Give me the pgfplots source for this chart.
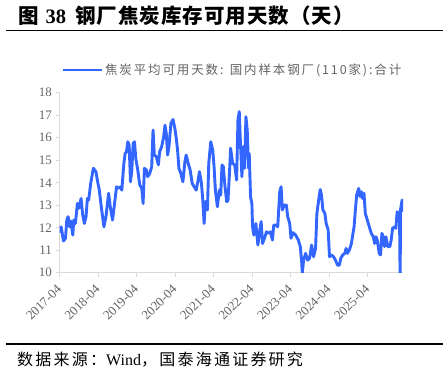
\documentclass[border=0pt]{standalone}
\usepackage{fontspec}
\usepackage{pgfplots}
\pgfplotsset{compat=1.18}
\setmainfont{Liberation Serif}
\newfontfamily\cjkT{Noto Sans CJK SC}[LetterSpace=5]
\newfontfamily\cjkL{Noto Sans CJK SC}[LetterSpace=15]
\newfontfamily\cjkF{Noto Sans CJK SC}[LetterSpace=14]
\definecolor{lineblue}{RGB}{51,102,255}
\definecolor{axgray}{RGB}{217,217,217}
\definecolor{txtgray}{RGB}{100,100,100}
\begin{document}
\begin{tikzpicture}
\useasboundingbox (0,0) rectangle (448bp,-374bp);
\node[anchor=base west, inner sep=0] at (18bp,-23.5bp) {\fontsize{20.5bp}{24bp}\selectfont\cjkT\bfseries 图\hspace{7bp}{\rmfamily\bfseries 38}\hspace{9bp}钢厂焦炭库存可用天数（天）};
\draw[line width=1.3bp] (6bp,-30.7bp) -- (443bp,-30.7bp);
\draw[line width=1.3bp] (6bp,-344bp) -- (443bp,-344bp);
\node[anchor=base west, inner sep=0] at (17bp,-365bp) {\fontsize{16bp}{19bp}\selectfont\cjkF 数据来源：{\rmfamily Wind}，国泰海通证券研究};
\begin{axis}[
 at={(59.5bp,-272.7bp)}, anchor=south west,
 scale only axis, width=343.5bp, height=180bp,
 xmin=2017.25, xmax=2026.17, ymin=10, ymax=18,
 axis x line*=bottom, axis y line*=left,
 axis line style={draw=axgray, line width=1.3bp},
 ytick={10,11,...,18},
 xtick={2017.25,2018.25,2019.25,2020.25,2021.25,2022.25,2023.25,2024.25,2025.25},
 xticklabels={2017-04,2018-04,2019-04,2020-04,2021-04,2022-04,2023-04,2024-04,2025-04},
 tick style={draw=axgray, line width=1bp},
 major tick length=4bp,
 tick align=outside,
 tick label style={font=\fontsize{13bp}{15bp}\selectfont, text=txtgray},
 /pgf/number format/assume math mode=true,
 xticklabel shift=8bp,
 x tick label style={xshift=2bp, rotate=45, anchor=east},
 legend style={at={(0.0044,1.126)}, anchor=west, draw=none, fill=none, inner sep=0pt, font=\fontsize{12.5bp}{15bp}\selectfont\cjkL, text=txtgray},
 legend image code/.code={\draw[#1] (0bp,0bp) -- (39bp,0bp);},
]
\addplot[color=lineblue, line width=2.9bp, line join=round] coordinates {
(2017.250,11.78) (2017.293,12.04) (2017.353,11.41) (2017.405,11.53) (2017.439,12.34)
(2017.474,12.49) (2017.508,12.04) (2017.543,12.30) (2017.595,11.67) (2017.620,12.34)
(2017.663,12.19) (2017.715,13.08) (2017.750,12.86) (2017.810,13.30) (2017.853,12.56)
(2017.896,12.19) (2017.939,12.49) (2017.974,13.30) (2018.008,13.23) (2018.060,13.97)
(2018.129,14.64) (2018.197,14.49) (2018.232,14.12) (2018.284,13.67) (2018.335,12.93)
(2018.404,12.04) (2018.456,12.49) (2018.525,13.53) (2018.568,12.93) (2018.628,12.34)
(2018.680,13.08) (2018.731,13.82) (2018.783,13.75) (2018.835,13.82) (2018.869,13.67)
(2018.921,14.86) (2018.955,15.30) (2018.990,15.38) (2019.024,15.82) (2019.059,15.67)
(2019.093,14.04) (2019.128,14.56) (2019.162,15.75) (2019.197,15.82) (2019.231,15.08)
(2019.283,14.56) (2019.334,13.90) (2019.386,13.75) (2019.421,13.08) (2019.455,14.64)
(2019.507,14.56) (2019.541,14.27) (2019.593,14.41) (2019.644,14.71) (2019.679,16.34)
(2019.713,15.23) (2019.765,15.16) (2019.817,14.79) (2019.851,15.38) (2019.903,15.60)
(2019.955,16.04) (2019.989,16.56) (2020.023,16.19) (2020.058,15.23) (2020.092,15.60)
(2020.144,16.64) (2020.196,16.81) (2020.247,16.41) (2020.282,15.97) (2020.316,15.45)
(2020.351,14.64) (2020.402,14.41) (2020.454,14.04) (2020.506,14.93) (2020.540,15.23)
(2020.592,14.86) (2020.644,14.56) (2020.695,13.97) (2020.747,13.82) (2020.799,13.67)
(2020.850,14.12) (2020.885,14.49) (2020.936,13.97) (2020.971,13.23) (2021.005,12.19)
(2021.040,13.16) (2021.091,12.79) (2021.126,14.86) (2021.178,15.82) (2021.229,15.45)
(2021.264,14.71) (2021.298,13.67) (2021.350,12.93) (2021.402,13.67) (2021.436,13.45)
(2021.470,14.79) (2021.505,14.71) (2021.539,13.97) (2021.591,13.16) (2021.625,13.20)
(2021.660,14.30) (2021.694,15.53) (2021.746,14.86) (2021.798,14.79) (2021.849,14.12)
(2021.884,16.79) (2021.918,17.16) (2021.953,15.60) (2021.987,14.27) (2022.022,15.60)
(2022.056,14.64) (2022.091,16.93) (2022.125,16.34) (2022.160,14.64) (2022.177,15.30)
(2022.211,13.38) (2022.246,13.08) (2022.263,12.04) (2022.297,11.67) (2022.349,12.19)
(2022.401,11.23) (2022.452,11.90) (2022.487,12.27) (2022.521,11.30) (2022.573,11.53)
(2022.625,11.82) (2022.676,11.75) (2022.728,11.82) (2022.780,11.45) (2022.814,12.12)
(2022.866,12.12) (2022.917,12.04) (2022.969,13.60) (2023.004,13.82) (2023.038,12.79)
(2023.090,13.01) (2023.141,13.01) (2023.176,12.49) (2023.228,12.19) (2023.262,11.53)
(2023.314,11.78) (2023.383,11.67) (2023.452,11.45) (2023.503,11.16) (2023.538,10.50)
(2023.555,10.00) (2023.589,10.56) (2023.641,10.86) (2023.693,10.56) (2023.744,10.64)
(2023.796,11.23) (2023.848,10.71) (2023.899,11.08) (2023.934,12.64) (2023.986,13.30)
(2024.020,13.70) (2024.054,13.45) (2024.089,12.79) (2024.141,12.64) (2024.175,12.19)
(2024.227,11.90) (2024.261,10.71) (2024.313,10.79) (2024.365,10.71) (2024.416,10.56)
(2024.468,10.34) (2024.520,10.34) (2024.554,10.64) (2024.606,10.79) (2024.658,10.86)
(2024.692,11.08) (2024.726,10.86) (2024.778,11.01) (2024.830,11.30) (2024.864,11.67)
(2024.899,12.04) (2024.933,12.79) (2024.967,13.45) (2025.019,13.75) (2025.054,13.38)
(2025.088,13.60) (2025.123,13.30) (2025.157,13.53) (2025.191,12.64) (2025.243,12.34)
(2025.295,12.04) (2025.346,11.75) (2025.398,11.60) (2025.433,11.30) (2025.467,11.60)
(2025.501,11.45) (2025.553,10.86) (2025.587,10.79) (2025.622,11.75) (2025.656,11.60)
(2025.691,11.16) (2025.725,11.60) (2025.777,11.16) (2025.829,11.16) (2025.863,11.45)
(2025.898,11.97) (2025.949,12.04) (2025.984,11.97) (2026.018,12.71) (2026.053,12.64)
(2026.079,12.60) (2026.096,9.50) (2026.105,12.80) (2026.147,13.23) (2026.170,12.71)
};
\addlegendentry{焦炭平均可用天数: 国内样本钢厂(110家):合计}
\end{axis}
\end{tikzpicture}
\end{document}
